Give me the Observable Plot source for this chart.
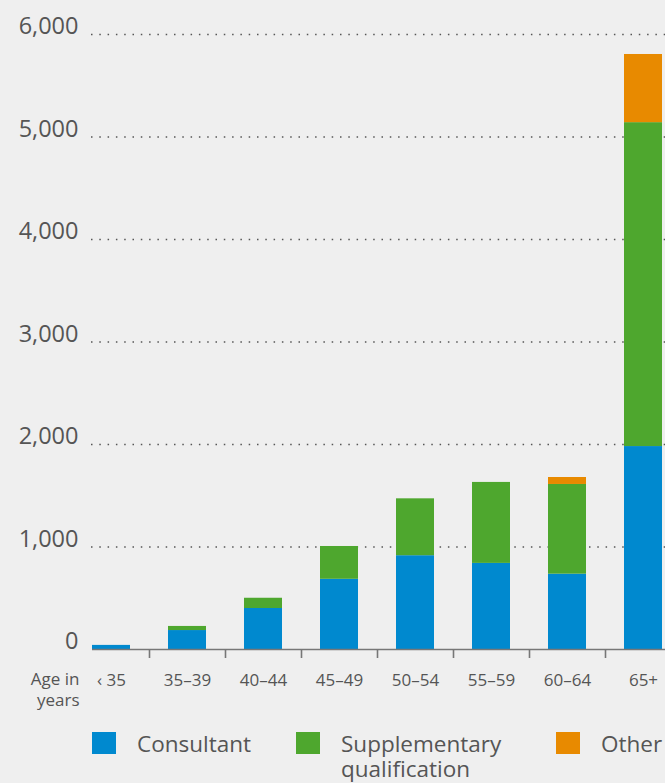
<!DOCTYPE html>
<html>
<head>
<meta charset="utf-8">
<script src="https://cdn.jsdelivr.net/npm/d3@7"></script>
<script src="https://cdn.jsdelivr.net/npm/@observablehq/plot@0.6"></script>
<style>
  html, body { margin: 0; padding: 0; background: #efefef; }
  body { width: 665px; height: 783px; overflow: hidden; font-family: "Open Sans", "Noto Sans", sans-serif; color: #555; }
  #chart svg { display: block; }
  #legend { position: relative; display: flex; padding-left: 92px; margin-top: 17px; font-size: 22.5px; line-height: 25px; color: #555; }
  .item { display: flex; align-items: flex-start; }
  .item:nth-child(1) { width: 204px; }
  .item:nth-child(2) { width: 260px; }
  .sw { width: 24px; height: 22px; margin-right: 21px; flex: none; }
  .lab { margin-top: -1px; }
</style>
</head>
<body>
<div id="chart"></div>
<div id="legend"></div>
<script>
const ages = ["‹ 35", "35–39", "40–44", "45–49", "50–54", "55–59", "60–64", "65+"];
const series = ["Consultant", "Supplementary qualification", "Other"];
const legendLabels = ["Consultant", "Supplementary\nqualification", "Other"];
const colors = ["#0089cf", "#4ea72e", "#e88a00"];
const consultant = [40, 185, 400, 685, 915, 840, 735, 1980];
const supplementary = [0, 40, 100, 320, 555, 790, 875, 3160];
const other = [0, 0, 0, 0, 0, 0, 68, 665];
const yTicks = [0, 1000, 2000, 3000, 4000, 5000, 6000];
const axisLabel = "Age in\nyears";

const values = [consultant, supplementary, other];
const table = [];
series.forEach((s, si) => ages.forEach((a, ai) => table.push({age: a, series: s, value: values[si][ai]})));

const chart = Plot.plot({
  width: 665,
  height: 715,
  marginLeft: 73,
  marginRight: 0,
  marginTop: 34,
  marginBottom: 66,
  style: {background: "transparent", fontFamily: "'Open Sans', 'Noto Sans', sans-serif", color: "#555"},
  x: {domain: ages, range: [73, 681], paddingInner: 0.5, paddingOuter: 0.25, axis: null},
  y: {domain: [0, 6000], axis: null},
  color: {domain: series, range: colors},
  marks: [
    Plot.ruleY(yTicks.filter(d => d > 0), {stroke: "#555", strokeWidth: 1.5, strokeDasharray: "1.5 6.8", insetLeft: 18}),
    Plot.barY(table, {x: "age", y: "value", fill: "series", order: series}),
    Plot.ruleY([0], {stroke: "#777", strokeWidth: 1.6, insetLeft: 19}),
    Plot.ruleX(ages.slice(0, -1), {x: d => d, y1: 0, y2: 0, dx: 38, insetBottom: -9, stroke: "#777", strokeWidth: 1.6}),
    Plot.axisY(yTicks, {label: null, tickSize: 0, tickPadding: 3, dx: 8, dy: -8, fontSize: 23.5, fill: "#555", tickFormat: d => d3.format(",")(d)}),
    Plot.axisX({label: null, tickSize: 0, tickPadding: 24, fontSize: 17, fill: "#555"}),
    Plot.text([axisLabel], {text: d => d, frameAnchor: "bottom-left", textAnchor: "end", lineAnchor: "top", dx: 6, dy: 21, fontSize: 17, lineHeight: 1.22, fill: "#555"})
  ]
});
document.getElementById("chart").appendChild(chart);

const legend = document.getElementById("legend");
series.forEach((s, i) => {
  const item = document.createElement("div");
  item.className = "item";
  const sw = document.createElement("div");
  sw.className = "sw";
  sw.style.background = colors[i];
  const lab = document.createElement("div");
  lab.className = "lab";
  lab.innerHTML = legendLabels[i].replace("\n", "<br>");
  item.appendChild(sw);
  item.appendChild(lab);
  legend.appendChild(item);
});
</script>
</body>
</html>
